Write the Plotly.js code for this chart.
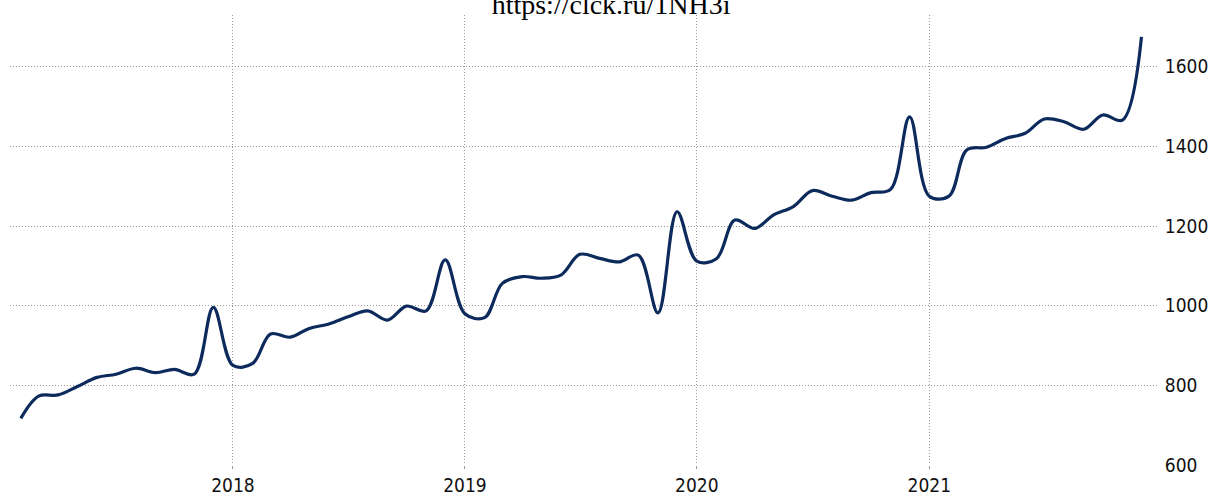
<!DOCTYPE html>
<html>
<head>
<meta charset="utf-8">
<script src="https://cdn.plot.ly/plotly-3.0.1.min.js"></script>
<style>html,body{margin:0;padding:0;background:#fff;}#chart{width:1210px;height:496px;}</style>
</head>
<body>
<div id="chart"></div>
<script>
const months = [
  '2017-02-01','2017-03-01','2017-04-01','2017-05-01','2017-06-01','2017-07-01','2017-08-01','2017-09-01','2017-10-01','2017-11-01','2017-12-01',
  '2018-01-01','2018-02-01','2018-03-01','2018-04-01','2018-05-01','2018-06-01','2018-07-01','2018-08-01','2018-09-01','2018-10-01','2018-11-01','2018-12-01',
  '2019-01-01','2019-02-01','2019-03-01','2019-04-01','2019-05-01','2019-06-01','2019-07-01','2019-08-01','2019-09-01','2019-10-01','2019-11-01','2019-12-01',
  '2020-01-01','2020-02-01','2020-03-01','2020-04-01','2020-05-01','2020-06-01','2020-07-01','2020-08-01','2020-09-01','2020-10-01','2020-11-01','2020-12-01',
  '2021-01-01','2021-02-01','2021-03-01','2021-04-01','2021-05-01','2021-06-01','2021-07-01','2021-08-01','2021-09-01','2021-10-01','2021-11-01','2021-12-01'
];
const values = [
  717, 773, 776, 797, 820, 828, 843, 832, 840, 828, 996,
  850, 855, 929, 921, 943, 954, 972, 987, 964, 999, 987, 1115,
  980, 970, 1056, 1073, 1069, 1077, 1129, 1119, 1110, 1127, 982, 1236,
  1112, 1118, 1215, 1194, 1228, 1249, 1289, 1275, 1265, 1284, 1292, 1474,
  1275, 1275, 1391, 1398, 1420, 1433, 1469, 1462, 1443, 1479, 1466, 1675
];
const xTickVals = ['2018-01-01','2019-01-01','2020-01-01','2021-01-01'];
const xTickText = ['2018','2019','2020','2021'];
const yTickVals = [600, 800, 1000, 1200, 1400, 1600];
const titleText = 'https://clck.ru/1NH3i';

const trace = {
  x: months, y: values, type: 'scatter', mode: 'lines',
  line: {color: '#0c2a5b', width: 3.2, shape: 'spline', smoothing: 1},
  hoverinfo: 'x+y'
};
const tickFont = {family: '"DejaVu Sans Condensed", "Liberation Sans", sans-serif', size: 19, color: '#111'};
const layout = {
  width: 1210, height: 496,
  margin: {l: 10, r: 52, t: 15, b: 31},
  paper_bgcolor: '#fff', plot_bgcolor: '#fff',
  showlegend: false,
  title: {text: titleText, x: 0.505, xanchor: 'center', xref: 'container', y: 0.992, yanchor: 'middle', yref: 'container',
          font: {family: '"Liberation Serif", "Times New Roman", serif', size: 28, color: '#000'}},
  xaxis: {
    type: 'date', range: ['2017-01-15', '2021-12-27'],
    tickvals: xTickVals, ticktext: xTickText,
    showgrid: true, gridcolor: '#999', griddash: '1px,2px', gridwidth: 1,
    ticks: 'outside', ticklen: 3, tickcolor: '#999', tickwidth: 1,
    showline: false, zeroline: false,
    tickfont: tickFont
  },
  yaxis: {
    side: 'right', range: [600, 1730],
    tickvals: yTickVals,
    showgrid: true, gridcolor: '#999', griddash: '1px,2px', gridwidth: 1,
    ticks: 'outside', ticklen: 2, tickcolor: 'rgba(0,0,0,0)',
    showline: false, zeroline: false,
    tickfont: tickFont
  }
};
Plotly.newPlot('chart', [trace], layout, {staticPlot: true, displayModeBar: false});
</script>
</body>
</html>
